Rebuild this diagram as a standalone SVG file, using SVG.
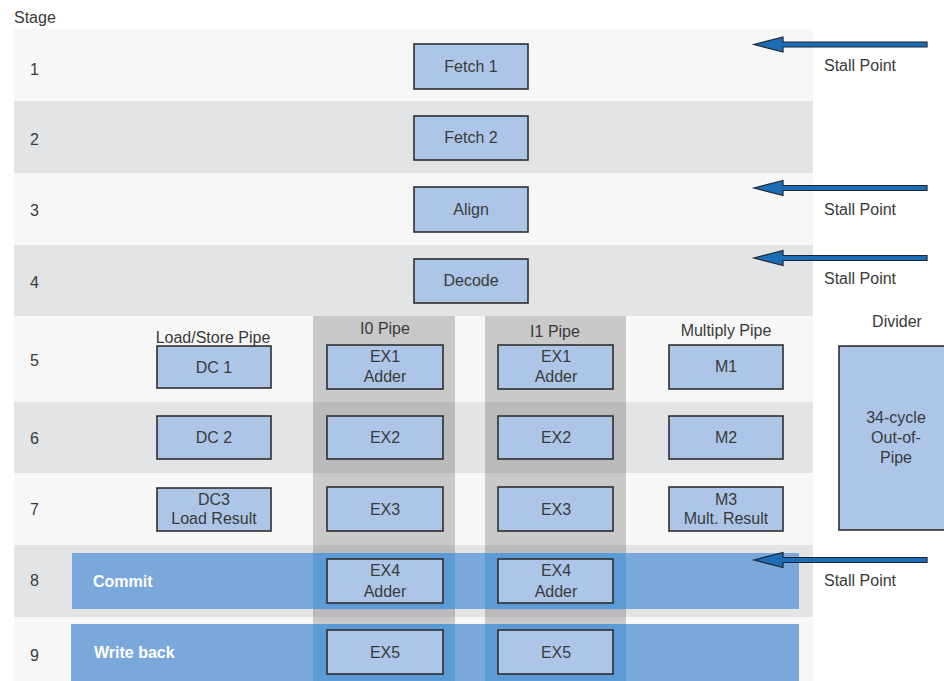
<svg xmlns="http://www.w3.org/2000/svg" width="944" height="681" viewBox="0 0 944 681">
<style>
text{font-family:"Liberation Sans",Arial,sans-serif;font-size:16px;fill:#3a3a3a}
.c{text-anchor:middle}
.w{fill:#fff;font-weight:bold}
.box{fill:#adc6e7;stroke:#2e2e2e;stroke-width:1.6}
.lt{fill:#f7f7f7}
.dk{fill:#e3e4e6}
.col{fill:#000;fill-opacity:0.185}
.band{fill:#7aa8da}
.bcol{fill:#5d9bd6}
.arr{fill:#1b6db8;stroke:#1c2633;stroke-width:1.2;stroke-linejoin:miter}
</style>
<rect width="944" height="681" fill="#fff"/>
<g id="rows">
<rect class="lt" x="14" y="29" width="799" height="72"/>
<rect class="dk" x="14" y="101" width="799" height="72"/>
<rect class="lt" x="14" y="173" width="799" height="72"/>
<rect class="dk" x="14" y="245" width="799" height="71"/>
<rect class="lt" x="14" y="316" width="799" height="86"/>
<rect class="dk" x="14" y="402" width="799" height="71"/>
<rect class="lt" x="14" y="473" width="799" height="72"/>
<rect class="dk" x="14" y="545" width="799" height="72"/>
<rect class="lt" x="14" y="617" width="799" height="64"/>
</g>
<g id="columns">
<rect class="col" x="313" y="316" width="142" height="365"/>
<rect class="col" x="485" y="316" width="141" height="365"/>
</g>
<g id="bands">
<rect class="band" x="72" y="553" width="727" height="56"/>
<rect class="band" x="71" y="624" width="728" height="57"/>
<rect class="bcol" x="313" y="553" width="142" height="56"/>
<rect class="bcol" x="485" y="553" width="141" height="56"/>
<rect class="bcol" x="313" y="624" width="142" height="57"/>
<rect class="bcol" x="485" y="624" width="141" height="57"/>
<text class="w" x="93" y="587">Commit</text>
<text class="w" x="94" y="658">Write back</text>
</g>
<g id="stages">
<text x="14" y="23">Stage</text>
<text x="30" y="75">1</text>
<text x="30" y="145">2</text>
<text x="30" y="216">3</text>
<text x="30" y="288">4</text>
<text x="30" y="366">5</text>
<text x="30" y="444">6</text>
<text x="30" y="515">7</text>
<text x="30" y="586">8</text>
<text x="30" y="661">9</text>
</g>
<g id="labels">
<text class="c" x="213" y="343">Load/Store Pipe</text>
<text class="c" x="385" y="334">I0 Pipe</text>
<text class="c" x="555" y="337">I1 Pipe</text>
<text class="c" x="726" y="336">Multiply Pipe</text>
<text class="c" x="897" y="327">Divider</text>
</g>
<g id="fetch1"><rect class="box" x="414" y="44" width="114" height="45"/><text class="c" x="471" y="72">Fetch 1</text></g>
<g id="fetch2"><rect class="box" x="414" y="116" width="114" height="44"/><text class="c" x="471" y="143">Fetch 2</text></g>
<g id="align"><rect class="box" x="414" y="187" width="114" height="45"/><text class="c" x="471" y="215">Align</text></g>
<g id="decode"><rect class="box" x="414" y="259" width="114" height="44"/><text class="c" x="471" y="286">Decode</text></g>
<g id="dc1"><rect class="box" x="157" y="346" width="114" height="42"/><text class="c" x="214" y="373">DC 1</text></g>
<g id="dc2"><rect class="box" x="157" y="416" width="114" height="43"/><text class="c" x="214" y="443">DC 2</text></g>
<g id="dc3"><rect class="box" x="157" y="488" width="114" height="43"/><text class="c" x="214" y="505">DC3</text><text class="c" x="214" y="524">Load Result</text></g>
<g id="i0ex1"><rect class="box" x="327" y="345" width="116" height="44"/><text class="c" x="385" y="362">EX1</text><text class="c" x="385" y="382">Adder</text></g>
<g id="i0ex2"><rect class="box" x="327" y="416" width="116" height="43"/><text class="c" x="385" y="443">EX2</text></g>
<g id="i0ex3"><rect class="box" x="327" y="487" width="116" height="44"/><text class="c" x="385" y="515">EX3</text></g>
<g id="i0ex4"><rect class="box" x="327" y="559" width="116" height="44"/><text class="c" x="385" y="576">EX4</text><text class="c" x="385" y="597">Adder</text></g>
<g id="i0ex5"><rect class="box" x="327" y="630" width="116" height="44"/><text class="c" x="385" y="658">EX5</text></g>
<g id="i1ex1"><rect class="box" x="498" y="345" width="115" height="44"/><text class="c" x="556" y="362">EX1</text><text class="c" x="556" y="382">Adder</text></g>
<g id="i1ex2"><rect class="box" x="498" y="416" width="115" height="43"/><text class="c" x="556" y="443">EX2</text></g>
<g id="i1ex3"><rect class="box" x="498" y="487" width="115" height="44"/><text class="c" x="556" y="515">EX3</text></g>
<g id="i1ex4"><rect class="box" x="498" y="559" width="115" height="44"/><text class="c" x="556" y="576">EX4</text><text class="c" x="556" y="597">Adder</text></g>
<g id="i1ex5"><rect class="box" x="498" y="630" width="115" height="44"/><text class="c" x="556" y="658">EX5</text></g>
<g id="m1"><rect class="box" x="669" y="345" width="114" height="44"/><text class="c" x="726" y="372">M1</text></g>
<g id="m2"><rect class="box" x="669" y="416" width="114" height="43"/><text class="c" x="726" y="443">M2</text></g>
<g id="m3"><rect class="box" x="669" y="487" width="114" height="44"/><text class="c" x="726" y="505">M3</text><text class="c" x="726" y="524">Mult. Result</text></g>
<g id="divider"><rect class="box" x="839" y="346" width="110" height="184"/><text class="c" x="896" y="423">34-cycle</text><text class="c" x="896" y="443">Out-of-</text><text class="c" x="896" y="463">Pipe</text></g>
<g id="connectors">
<path class="arr" d="M927,42 L783,42 L783,37 L754,44.5 L783,52 L783,47 L927,47 Z"/>
<path class="arr" d="M927,185.5 L783,185.5 L783,180.5 L754,188 L783,195.5 L783,190.5 L927,190.5 Z"/>
<path class="arr" d="M927,255.5 L783,255.5 L783,250.5 L754,258 L783,265.5 L783,260.5 L927,260.5 Z"/>
<path class="arr" d="M927,557.5 L783,557.5 L783,552.5 L754,560 L783,567.5 L783,562.5 L927,562.5 Z"/>
</g>
<g id="stall-labels">
<text x="824" y="71">Stall Point</text>
<text x="824" y="215">Stall Point</text>
<text x="824" y="284">Stall Point</text>
<text x="824" y="586">Stall Point</text>
</g>
</svg>
